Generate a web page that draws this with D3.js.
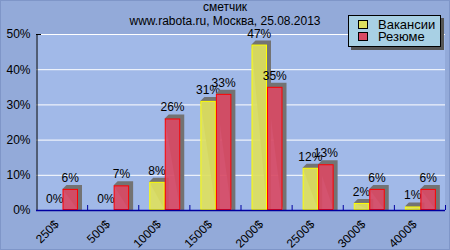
<!DOCTYPE html>
<html>
<head>
<meta charset="utf-8">
<script src="https://cdn.jsdelivr.net/npm/d3@7"></script>
<style>
  body { margin: 0; background: #93aad9; }
  svg { display: block; font-family: "Liberation Sans", Arial, sans-serif; }
</style>
</head>
<body>
<svg id="chart"></svg>
<script>
const categories = ["250$", "500$", "1000$", "1500$", "2000$", "2500$", "3000$", "4000$"];
const vacancies = [0, 0, 8, 31, 47, 12, 2, 1];
const resumes = [6, 7, 26, 33, 35, 13, 6, 6];
const seriesNames = ["Вакансии", "Резюме"];
const yTicks = [0, 10, 20, 30, 40, 50];

const width = 450;
const height = 250;
const margin = {left: 36, right: 5, top: 34, bottom: 40};

const svg = d3.select('#chart').attr('width', width).attr('height', height);

// outer frame
svg.append('rect')
    .attr('x', 0.5).attr('y', 0.5)
    .attr('width', width - 1).attr('height', height - 1)
    .attr('fill', '#93aad9')
    .attr('stroke', '#7f96c8');

const x = d3.scaleBand()
    .domain(categories)
    .range([margin.left, width - margin.right]);

const y = d3.scaleLinear()
    .domain([0, 50])
    .range([height - margin.bottom, margin.top]);

// plot background
svg.append('rect')
    .attr('x', margin.left).attr('y', margin.top)
    .attr('width', width - margin.right - margin.left)
    .attr('height', y(0) - margin.top)
    .attr('fill', '#a1b9e8');

// grid
svg.append('g')
    .selectAll('line')
    .data(yTicks.slice(1))
    .enter().append('line')
    .attr('x1', margin.left).attr('x2', width - margin.right)
    .attr('y1', d => y(d) + 0.5).attr('y2', d => y(d) + 0.5)
    .attr('stroke', '#ffffff')
    .attr('stroke-width', 1);

// y axis
const yAxis = d3.axisLeft(y)
    .tickValues(yTicks)
    .tickFormat(d => d + '%')
    .tickSize(0)
    .tickPadding(6);

const gy = svg.append('g')
    .attr('transform', `translate(${margin.left + 0.5},0)`)
    .call(yAxis);
gy.select('.domain').attr('stroke', '#000');
gy.selectAll('text').attr('font-size', 12).attr('fill', '#000')
    .attr('font-family', '"Liberation Sans", Arial, sans-serif');
svg.append('line')
    .attr('x1', margin.left).attr('x2', margin.left + 5)
    .attr('y1', y(50) + 0.5).attr('y2', y(50) + 0.5)
    .attr('stroke', '#000');

// bars
const barW = 15.5;
const offset = 11;
const depth = 4;
const series = [
    {name: seriesNames[0], values: vacancies, fill: '#dde05e', stroke: '#ffff00'},
    {name: seriesNames[1], values: resumes, fill: '#d84a64', stroke: '#ff0000'}
];

const barsG = svg.append('g');
series.forEach((s, si) => {
    const g = barsG.append('g');
    const data = categories.map((c, i) => ({c: c, v: s.values[i]}));
    const bx = d => x(d.c) + offset + si * barW;

    g.selectAll('polygon')
        .data(data.filter(d => d.v > 0))
        .enter().append('polygon')
        .attr('points', d => {
            const x0 = bx(d), x1 = bx(d) + barW, yt = y(d.v), yb = y(0);
            return [[x0, yt], [x0 + depth, yt - depth], [x1 + depth, yt - depth],
                    [x1 + depth, yb], [x1, yb]].join(' ');
        })
        .attr('fill', '#737373');

    g.selectAll('rect')
        .data(data.filter(d => d.v > 0))
        .enter().append('rect')
        .attr('x', d => bx(d) + 0.5)
        .attr('y', d => y(d.v) + 0.5)
        .attr('width', barW - 1)
        .attr('height', d => y(0) - y(d.v) - 1)
        .attr('fill', s.fill)
        .attr('fill-opacity', 0.92)
        .attr('stroke', s.stroke)
        .attr('stroke-width', 1);

    g.selectAll('text')
        .data(data)
        .enter().append('text')
        .attr('x', d => bx(d) + barW / 2)
        .attr('y', d => y(d.v) - 7)
        .attr('text-anchor', 'middle')
        .attr('font-size', 12)
        .attr('fill', '#000')
        .text(d => d.v + '%');
});

// x axis
const xAxisG = svg.append('g');
xAxisG.append('line')
    .attr('x1', margin.left).attr('x2', width - margin.right)
    .attr('y1', y(0) + 0.5).attr('y2', y(0) + 0.5)
    .attr('stroke', '#0000a0').attr('stroke-width', 1.5);
xAxisG.selectAll('line.tick')
    .data(categories)
    .enter().append('line')
    .attr('class', 'tick')
    .attr('x1', d => x(d) + x.bandwidth() + 0.5)
    .attr('x2', d => x(d) + x.bandwidth() + 0.5)
    .attr('y1', y(0)).attr('y2', y(0) - 5)
    .attr('stroke', '#0000a0');
xAxisG.selectAll('text')
    .data(categories)
    .enter().append('text')
    .attr('transform', d => `translate(${x(d) + x.bandwidth() / 2 - 2},${y(0) + 15}) rotate(-45)`)
    .attr('text-anchor', 'end')
    .attr('font-size', 12)
    .attr('fill', '#000')
    .text(d => d);

// title
svg.append('text')
    .attr('x', width / 2).attr('y', 11)
    .attr('text-anchor', 'middle')
    .attr('font-size', 12)
    .text('сметчик');
svg.append('text')
    .attr('x', width / 2).attr('y', 25)
    .attr('text-anchor', 'middle')
    .attr('font-size', 12)
    .text('www.rabota.ru, Москва, 25.08.2013');

// legend
const legend = svg.append('g').attr('transform', 'translate(348,15)');
legend.append('rect')
    .attr('x', 3).attr('y', 3).attr('width', 93).attr('height', 32)
    .attr('fill', '#555');
legend.append('rect')
    .attr('x', 0.5).attr('y', 0.5).attr('width', 92).attr('height', 31)
    .attr('fill', '#a8d0e4').attr('stroke', '#000');
series.forEach((s, i) => {
    legend.append('rect')
        .attr('x', 10.5).attr('y', 5.5 + i * 12)
        .attr('width', 9).attr('height', 8)
        .attr('fill', s.fill).attr('stroke', '#000');
    legend.append('text')
        .attr('x', 30).attr('y', 14 + i * 12)
        .attr('font-size', 13)
        .text(s.name);
});
</script>
</body>
</html>
